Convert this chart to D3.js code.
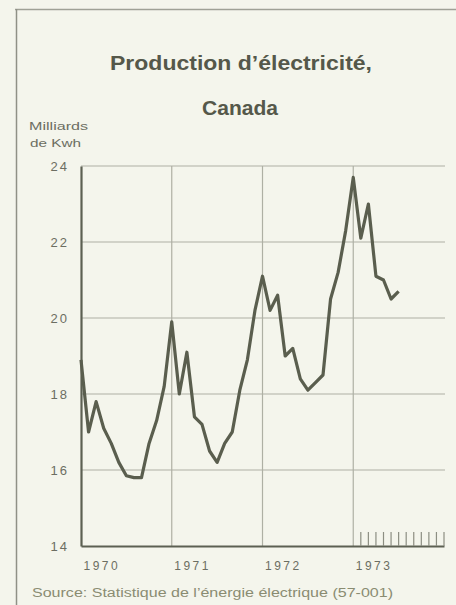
<!DOCTYPE html>
<html lang="fr">
<head>
<meta charset="UTF-8">
<script src="https://d3js.org/d3.v7.min.js"></script>
<style>
  body { margin: 0; padding: 0; background: #f4f5ec; }
  svg { display: block; }
  text { font-family: 'Liberation Sans', Arial, sans-serif; }
</style>
</head>
<body>
<div id="chart"></div>
<script>
// Données mensuelles, janvier 1970 à juillet 1973 (milliards de kWh)
const months = d3.range(43);
const production = [
  18.9, 17.0, 17.8, 17.1, 16.7, 16.2, 15.85, 15.8, 15.8, 16.7, 17.3, 18.2,
  19.9, 18.0, 19.1, 17.4, 17.2, 16.5, 16.2, 16.7, 17.0, 18.1, 18.9, 20.2,
  21.1, 20.2, 20.6, 19.0, 19.2, 18.4, 18.1, 18.3, 18.5, 20.5, 21.2, 22.3,
  23.7, 22.1, 23.0, 21.1, 21.0, 20.5, 20.7
];
const yearLabels = ['1970', '1971', '1972', '1973'];
const yTicks = [14, 16, 18, 20, 22, 24];

const width = 456, height = 605;
const ink = '#5c6052', grid = '#aeb0a4', txt = '#6c6e62';

const svg = d3.select('#chart').append('svg')
  .attr('width', width)
  .attr('height', height);

// Cadre de la page
svg.append('line').attr('x1', 15).attr('x2', width).attr('y1', 9.5).attr('y2', 9.5)
  .attr('stroke', '#9fa196').attr('stroke-width', 1.5);
svg.append('line').attr('x1', 16.5).attr('x2', 16.5).attr('y1', 9).attr('y2', height)
  .attr('stroke', '#8f9186').attr('stroke-width', 1.5);

// Titre
svg.append('text').attr('x', 241).attr('y', 70).attr('text-anchor', 'middle')
  .attr('font-size', 20.5).attr('font-weight', 'bold').attr('fill', '#55584a')
  .attr('textLength', 262).attr('lengthAdjust', 'spacingAndGlyphs')
  .text('Production d\u2019électricité,');
svg.append('text').attr('x', 240).attr('y', 115).attr('text-anchor', 'middle')
  .attr('font-size', 20.5).attr('font-weight', 'bold').attr('fill', '#55584a')
  .attr('textLength', 76).attr('lengthAdjust', 'spacingAndGlyphs')
  .text('Canada');

// Unité
svg.append('text').attr('x', 29).attr('y', 130).attr('font-size', 11.5).attr('fill', txt)
  .attr('font-family', "'DejaVu Sans', sans-serif")
  .attr('textLength', 59).attr('lengthAdjust', 'spacingAndGlyphs')
  .text('Milliards');
svg.append('text').attr('x', 30).attr('y', 147).attr('font-size', 11.5).attr('fill', txt)
  .attr('font-family', "'DejaVu Sans', sans-serif")
  .attr('textLength', 51).attr('lengthAdjust', 'spacingAndGlyphs')
  .text('de Kwh');

// Échelles
const x = d3.scaleLinear().domain([0, 48]).range([81, 444]);
const y = d3.scaleLinear().domain([14, 24]).range([546, 166]);

// Grille horizontale
svg.append('g')
  .selectAll('line')
  .data(yTicks.filter(d => d > 14))
  .join('line')
  .attr('x1', x(0)).attr('x2', 445)
  .attr('y1', d => y(d)).attr('y2', d => y(d))
  .attr('stroke', grid).attr('stroke-width', 1.2);

// Grille verticale (début de chaque année)
svg.append('g')
  .selectAll('line')
  .data([12, 24, 36])
  .join('line')
  .attr('x1', d => x(d)).attr('x2', d => x(d))
  .attr('y1', y(24)).attr('y2', y(14))
  .attr('stroke', grid).attr('stroke-width', 1.2);

// Axe gauche
const yAxis = d3.axisLeft(y).tickValues(yTicks).tickSize(0).tickPadding(12);
const gy = svg.append('g').attr('transform', `translate(${x(0)},0)`).call(yAxis);
gy.select('.domain').attr('stroke', ink).attr('stroke-width', 2.2);
gy.selectAll('text')
  .attr('font-size', 13).attr('fill', txt).attr('letter-spacing', 2)
  .attr('font-family', "'DejaVu Sans', sans-serif");

// Axe du bas
const gx = svg.append('g').attr('transform', `translate(0,${y(14)})`)
  .call(d3.axisBottom(x).tickValues([0, 12, 24, 36]).tickSize(0).tickFormat(''));
gx.select('.domain').attr('stroke', ink).attr('stroke-width', 2.2);
gx.selectAll('.tick')
  .append('text')
  .attr('x', 2).attr('y', 24)
  .attr('text-anchor', 'start')
  .attr('font-size', 12).attr('fill', txt).attr('letter-spacing', 2.5)
  .attr('font-family', "'DejaVu Sans', sans-serif")
  .text((d, i) => yearLabels[i]);

// Repères mensuels pour 1973
svg.append('g')
  .selectAll('line')
  .data(d3.range(37, 49))
  .join('line')
  .attr('x1', d => x(d)).attr('x2', d => x(d))
  .attr('y1', y(14) - 14).attr('y2', y(14))
  .attr('stroke', '#8c8e82').attr('stroke-width', 1.2);

// Courbe
const line = d3.line()
  .x((d, i) => x(months[i]))
  .y(d => y(d))
  .curve(d3.curveLinear);

svg.append('path')
  .datum(production)
  .attr('d', line)
  .attr('fill', 'none')
  .attr('stroke', '#5a5e4e')
  .attr('stroke-width', 3.2)
  .attr('stroke-linejoin', 'round');

// Source
svg.append('text').attr('x', 32).attr('y', 597)
  .attr('font-size', 12).attr('fill', '#8a8c72')
  .attr('font-family', "'DejaVu Sans', sans-serif")
  .attr('textLength', 361).attr('lengthAdjust', 'spacingAndGlyphs')
  .text('Source:  Statistique de l\u2019énergie électrique (57-001)');
</script>
</body>
</html>
